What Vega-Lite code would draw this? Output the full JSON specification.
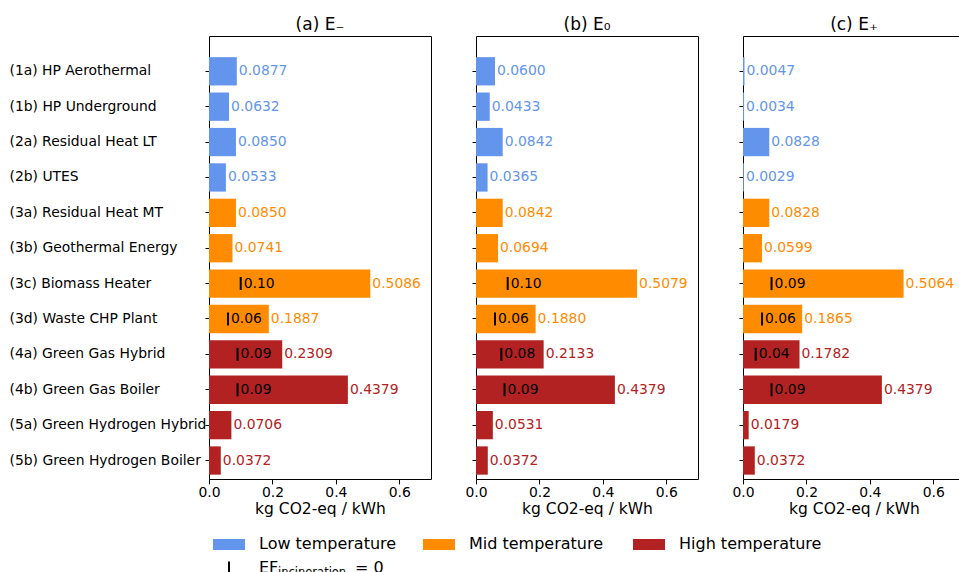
{
  "$schema": "https://vega.github.io/schema/vega-lite/v6.json",
  "padding": {"left": 8, "top": 15, "right": 0, "bottom": 0},
  "config": {
    "font": "DejaVu Sans",
    "view": {"stroke": "black", "strokeWidth": 1},
    "axis": {"labelColor": "black", "titleColor": "black", "tickColor": "black", "domain": false, "grid": false, "labelFontSize": 13.9, "titleFontSize": 15.5, "titleFontWeight": "normal"},
    "title": {"fontSize": 17, "fontWeight": "normal", "anchor": "middle", "frame": "group", "baseline": "alphabetic", "offset": 2, "color": "black"},
    "text": {"font": "DejaVu Sans"}
  },
  "datasets": {
    "bars": [
      {"panel": "a", "category": "(1a) HP Aerothermal", "group": "Low temperature", "value": 0.0877, "ef": null},
      {"panel": "a", "category": "(1b) HP Underground", "group": "Low temperature", "value": 0.0632, "ef": null},
      {"panel": "a", "category": "(2a) Residual Heat LT", "group": "Low temperature", "value": 0.0850, "ef": null},
      {"panel": "a", "category": "(2b) UTES", "group": "Low temperature", "value": 0.0533, "ef": null},
      {"panel": "a", "category": "(3a) Residual Heat MT", "group": "Mid temperature", "value": 0.0850, "ef": null},
      {"panel": "a", "category": "(3b) Geothermal Energy", "group": "Mid temperature", "value": 0.0741, "ef": null},
      {"panel": "a", "category": "(3c) Biomass Heater", "group": "Mid temperature", "value": 0.5086, "ef": 0.10},
      {"panel": "a", "category": "(3d) Waste CHP Plant", "group": "Mid temperature", "value": 0.1887, "ef": 0.06},
      {"panel": "a", "category": "(4a) Green Gas Hybrid", "group": "High temperature", "value": 0.2309, "ef": 0.09},
      {"panel": "a", "category": "(4b) Green Gas Boiler", "group": "High temperature", "value": 0.4379, "ef": 0.09},
      {"panel": "a", "category": "(5a) Green Hydrogen Hybrid", "group": "High temperature", "value": 0.0706, "ef": null},
      {"panel": "a", "category": "(5b) Green Hydrogen Boiler", "group": "High temperature", "value": 0.0372, "ef": null},
      {"panel": "b", "category": "(1a) HP Aerothermal", "group": "Low temperature", "value": 0.0600, "ef": null},
      {"panel": "b", "category": "(1b) HP Underground", "group": "Low temperature", "value": 0.0433, "ef": null},
      {"panel": "b", "category": "(2a) Residual Heat LT", "group": "Low temperature", "value": 0.0842, "ef": null},
      {"panel": "b", "category": "(2b) UTES", "group": "Low temperature", "value": 0.0365, "ef": null},
      {"panel": "b", "category": "(3a) Residual Heat MT", "group": "Mid temperature", "value": 0.0842, "ef": null},
      {"panel": "b", "category": "(3b) Geothermal Energy", "group": "Mid temperature", "value": 0.0694, "ef": null},
      {"panel": "b", "category": "(3c) Biomass Heater", "group": "Mid temperature", "value": 0.5079, "ef": 0.10},
      {"panel": "b", "category": "(3d) Waste CHP Plant", "group": "Mid temperature", "value": 0.1880, "ef": 0.06},
      {"panel": "b", "category": "(4a) Green Gas Hybrid", "group": "High temperature", "value": 0.2133, "ef": 0.08},
      {"panel": "b", "category": "(4b) Green Gas Boiler", "group": "High temperature", "value": 0.4379, "ef": 0.09},
      {"panel": "b", "category": "(5a) Green Hydrogen Hybrid", "group": "High temperature", "value": 0.0531, "ef": null},
      {"panel": "b", "category": "(5b) Green Hydrogen Boiler", "group": "High temperature", "value": 0.0372, "ef": null},
      {"panel": "c", "category": "(1a) HP Aerothermal", "group": "Low temperature", "value": 0.0047, "ef": null},
      {"panel": "c", "category": "(1b) HP Underground", "group": "Low temperature", "value": 0.0034, "ef": null},
      {"panel": "c", "category": "(2a) Residual Heat LT", "group": "Low temperature", "value": 0.0828, "ef": null},
      {"panel": "c", "category": "(2b) UTES", "group": "Low temperature", "value": 0.0029, "ef": null},
      {"panel": "c", "category": "(3a) Residual Heat MT", "group": "Mid temperature", "value": 0.0828, "ef": null},
      {"panel": "c", "category": "(3b) Geothermal Energy", "group": "Mid temperature", "value": 0.0599, "ef": null},
      {"panel": "c", "category": "(3c) Biomass Heater", "group": "Mid temperature", "value": 0.5064, "ef": 0.09},
      {"panel": "c", "category": "(3d) Waste CHP Plant", "group": "Mid temperature", "value": 0.1865, "ef": 0.06},
      {"panel": "c", "category": "(4a) Green Gas Hybrid", "group": "High temperature", "value": 0.1782, "ef": 0.04},
      {"panel": "c", "category": "(4b) Green Gas Boiler", "group": "High temperature", "value": 0.4379, "ef": 0.09},
      {"panel": "c", "category": "(5a) Green Hydrogen Hybrid", "group": "High temperature", "value": 0.0179, "ef": null},
      {"panel": "c", "category": "(5b) Green Hydrogen Boiler", "group": "High temperature", "value": 0.0372, "ef": null}
    ]
  },
  "vconcat": [
    {
      "spacing": 32,
      "hconcat": [
        {
          "width": 222, "height": 443,
          "data": {"name": "bars"},
          "title": {"text": "(a) E₋"},
          "transform": [{"filter": "datum.panel == 'a'"}],
          "encoding": {
            "y": {"field": "category", "type": "nominal",
              "scale": {"type": "band", "domain": ["(1a) HP Aerothermal", "(1b) HP Underground", "(2a) Residual Heat LT", "(2b) UTES", "(3a) Residual Heat MT", "(3b) Geothermal Energy", "(3c) Biomass Heater", "(3d) Waste CHP Plant", "(4a) Green Gas Hybrid", "(4b) Green Gas Boiler", "(5a) Green Hydrogen Hybrid", "(5b) Green Hydrogen Boiler"], "paddingInner": 0.2, "paddingOuter": 0.36, "align": 0.83},
              "axis": {"title": null, "labelAlign": "left", "labelPadding": 196, "labelLimit": 300, "tickSize": 4, "labelFontSize": 13.9}}
          },
          "layer": [
            {"mark": {"type": "bar"},
             "encoding": {
               "x": {"field": "value", "type": "quantitative", "scale": {"domain": [0, 0.7], "nice": false}, "axis": {"title": "kg CO2-eq / kWh", "values": [0, 0.2, 0.4, 0.6], "format": ".1f", "labelFlush": false, "tickSize": 4.9, "labelPadding": 2, "titlePadding": 2}},
               "color": {"field": "group", "type": "nominal", "scale": {"domain": ["Low temperature", "Mid temperature", "High temperature"], "range": ["#6495ED", "#FF8C00", "#B22222"]}, "legend": null}}},
            {"mark": {"type": "text", "align": "left", "baseline": "middle", "dx": 2, "fontSize": 13.9},
             "encoding": {
               "x": {"field": "value", "type": "quantitative", "scale": {"domain": [0, 0.7], "nice": false}, "axis": {"title": "kg CO2-eq / kWh", "values": [0, 0.2, 0.4, 0.6], "format": ".1f", "labelFlush": false, "tickSize": 4.9, "labelPadding": 2, "titlePadding": 2}},
               "text": {"field": "value", "type": "quantitative", "format": ".4f"},
               "color": {"field": "group", "type": "nominal", "legend": null}}},
            {"transform": [{"filter": "datum.ef != null"}],
             "mark": {"type": "tick", "color": "black", "thickness": 2, "size": 13, "opacity": 1},
             "encoding": {"x": {"field": "ef", "type": "quantitative", "scale": {"domain": [0, 0.7], "nice": false}, "axis": {"title": "kg CO2-eq / kWh", "values": [0, 0.2, 0.4, 0.6], "format": ".1f", "labelFlush": false, "tickSize": 4.9, "labelPadding": 2, "titlePadding": 2}}}},
            {"transform": [{"filter": "datum.ef != null"}],
             "mark": {"type": "text", "align": "left", "baseline": "middle", "dx": 3, "fontSize": 13.9, "color": "black"},
             "encoding": {"x": {"field": "ef", "type": "quantitative", "scale": {"domain": [0, 0.7], "nice": false}, "axis": {"title": "kg CO2-eq / kWh", "values": [0, 0.2, 0.4, 0.6], "format": ".1f", "labelFlush": false, "tickSize": 4.9, "labelPadding": 2, "titlePadding": 2}},
               "text": {"field": "ef", "type": "quantitative", "format": ".2f"}}}
          ]
        },
        {
          "width": 222, "height": 443,
          "data": {"name": "bars"},
          "title": {"text": "(b) E₀"},
          "transform": [{"filter": "datum.panel == 'b'"}],
          "encoding": {
            "y": {"field": "category", "type": "nominal",
              "scale": {"type": "band", "domain": ["(1a) HP Aerothermal", "(1b) HP Underground", "(2a) Residual Heat LT", "(2b) UTES", "(3a) Residual Heat MT", "(3b) Geothermal Energy", "(3c) Biomass Heater", "(3d) Waste CHP Plant", "(4a) Green Gas Hybrid", "(4b) Green Gas Boiler", "(5a) Green Hydrogen Hybrid", "(5b) Green Hydrogen Boiler"], "paddingInner": 0.2, "paddingOuter": 0.36, "align": 0.83},
              "axis": {"title": null, "labels": false, "tickSize": 4}}
          },
          "layer": [
            {"mark": {"type": "bar"},
             "encoding": {
               "x": {"field": "value", "type": "quantitative", "scale": {"domain": [0, 0.7], "nice": false}, "axis": {"title": "kg CO2-eq / kWh", "values": [0, 0.2, 0.4, 0.6], "format": ".1f", "labelFlush": false, "tickSize": 4.9, "labelPadding": 2, "titlePadding": 2}},
               "color": {"field": "group", "type": "nominal", "scale": {"domain": ["Low temperature", "Mid temperature", "High temperature"], "range": ["#6495ED", "#FF8C00", "#B22222"]}, "legend": null}}},
            {"mark": {"type": "text", "align": "left", "baseline": "middle", "dx": 2, "fontSize": 13.9},
             "encoding": {
               "x": {"field": "value", "type": "quantitative", "scale": {"domain": [0, 0.7], "nice": false}, "axis": {"title": "kg CO2-eq / kWh", "values": [0, 0.2, 0.4, 0.6], "format": ".1f", "labelFlush": false, "tickSize": 4.9, "labelPadding": 2, "titlePadding": 2}},
               "text": {"field": "value", "type": "quantitative", "format": ".4f"},
               "color": {"field": "group", "type": "nominal", "legend": null}}},
            {"transform": [{"filter": "datum.ef != null"}],
             "mark": {"type": "tick", "color": "black", "thickness": 2, "size": 13, "opacity": 1},
             "encoding": {"x": {"field": "ef", "type": "quantitative", "scale": {"domain": [0, 0.7], "nice": false}, "axis": {"title": "kg CO2-eq / kWh", "values": [0, 0.2, 0.4, 0.6], "format": ".1f", "labelFlush": false, "tickSize": 4.9, "labelPadding": 2, "titlePadding": 2}}}},
            {"transform": [{"filter": "datum.ef != null"}],
             "mark": {"type": "text", "align": "left", "baseline": "middle", "dx": 3, "fontSize": 13.9, "color": "black"},
             "encoding": {"x": {"field": "ef", "type": "quantitative", "scale": {"domain": [0, 0.7], "nice": false}, "axis": {"title": "kg CO2-eq / kWh", "values": [0, 0.2, 0.4, 0.6], "format": ".1f", "labelFlush": false, "tickSize": 4.9, "labelPadding": 2, "titlePadding": 2}},
               "text": {"field": "ef", "type": "quantitative", "format": ".2f"}}}
          ]
        },
        {
          "width": 222, "height": 443,
          "data": {"name": "bars"},
          "title": {"text": "(c) E₊"},
          "transform": [{"filter": "datum.panel == 'c'"}],
          "encoding": {
            "y": {"field": "category", "type": "nominal",
              "scale": {"type": "band", "domain": ["(1a) HP Aerothermal", "(1b) HP Underground", "(2a) Residual Heat LT", "(2b) UTES", "(3a) Residual Heat MT", "(3b) Geothermal Energy", "(3c) Biomass Heater", "(3d) Waste CHP Plant", "(4a) Green Gas Hybrid", "(4b) Green Gas Boiler", "(5a) Green Hydrogen Hybrid", "(5b) Green Hydrogen Boiler"], "paddingInner": 0.2, "paddingOuter": 0.36, "align": 0.83},
              "axis": {"title": null, "labels": false, "tickSize": 4}}
          },
          "layer": [
            {"mark": {"type": "bar"},
             "encoding": {
               "x": {"field": "value", "type": "quantitative", "scale": {"domain": [0, 0.7], "nice": false}, "axis": {"title": "kg CO2-eq / kWh", "values": [0, 0.2, 0.4, 0.6], "format": ".1f", "labelFlush": false, "tickSize": 4.9, "labelPadding": 2, "titlePadding": 2}},
               "color": {"field": "group", "type": "nominal", "scale": {"domain": ["Low temperature", "Mid temperature", "High temperature"], "range": ["#6495ED", "#FF8C00", "#B22222"]}, "legend": null}}},
            {"mark": {"type": "text", "align": "left", "baseline": "middle", "dx": 2, "fontSize": 13.9},
             "encoding": {
               "x": {"field": "value", "type": "quantitative", "scale": {"domain": [0, 0.7], "nice": false}, "axis": {"title": "kg CO2-eq / kWh", "values": [0, 0.2, 0.4, 0.6], "format": ".1f", "labelFlush": false, "tickSize": 4.9, "labelPadding": 2, "titlePadding": 2}},
               "text": {"field": "value", "type": "quantitative", "format": ".4f"},
               "color": {"field": "group", "type": "nominal", "legend": null}}},
            {"transform": [{"filter": "datum.ef != null"}],
             "mark": {"type": "tick", "color": "black", "thickness": 2, "size": 13, "opacity": 1},
             "encoding": {"x": {"field": "ef", "type": "quantitative", "scale": {"domain": [0, 0.7], "nice": false}, "axis": {"title": "kg CO2-eq / kWh", "values": [0, 0.2, 0.4, 0.6], "format": ".1f", "labelFlush": false, "tickSize": 4.9, "labelPadding": 2, "titlePadding": 2}}}},
            {"transform": [{"filter": "datum.ef != null"}],
             "mark": {"type": "text", "align": "left", "baseline": "middle", "dx": 3, "fontSize": 13.9, "color": "black"},
             "encoding": {"x": {"field": "ef", "type": "quantitative", "scale": {"domain": [0, 0.7], "nice": false}, "axis": {"title": "kg CO2-eq / kWh", "values": [0, 0.2, 0.4, 0.6], "format": ".1f", "labelFlush": false, "tickSize": 4.9, "labelPadding": 2, "titlePadding": 2}},
               "text": {"field": "ef", "type": "quantitative", "format": ".2f"}}}
          ]
        }
      ]
    },
    {
      "width": 460, "height": 40,
      "view": {"stroke": null},
      "data": {"values": [{"entry": "Low temperature"}, {"entry": "Mid temperature"}, {"entry": "High temperature"}]},
      "encoding": {
        "x": {"field": "entry", "type": "nominal", "scale": {"type": "point", "domain": ["Low temperature", "Mid temperature", "High temperature"], "padding": 0.0952}, "axis": null}
      },
      "layer": [
        {"mark": {"type": "point", "shape": "M-1,-0.34375H1V0.34375H-1Z", "size": 1024, "filled": true, "opacity": 1, "yOffset": -11.5},
         "encoding": {"color": {"field": "entry", "type": "nominal", "scale": {"domain": ["Low temperature", "Mid temperature", "High temperature"], "range": ["#6495ED", "#FF8C00", "#B22222"]}, "legend": null}}},
        {"mark": {"type": "text", "align": "left", "baseline": "alphabetic", "dx": 30, "dy": -7.3, "fontSize": 16, "color": "black"},
         "encoding": {"text": {"field": "entry"}}},
        {"data": {"values": [{"label": "EF", "sub": "incineration", "rest": "= 0"}]},
         "encoding": {"x": {"datum": "Low temperature", "type": "nominal"}},
         "layer": [
           {"mark": {"type": "point", "shape": "M0,-1V1", "size": 169, "filled": false, "stroke": "black", "strokeWidth": 2, "opacity": 1, "yOffset": 12}},
           {"mark": {"type": "text", "align": "left", "baseline": "alphabetic", "dx": 30, "dy": 17, "fontSize": 16, "color": "black"}, "encoding": {"text": {"field": "label"}}},
           {"mark": {"type": "text", "align": "left", "baseline": "alphabetic", "dx": 49, "dy": 20, "fontSize": 11.5, "color": "black"}, "encoding": {"text": {"field": "sub"}}},
           {"mark": {"type": "text", "align": "left", "baseline": "alphabetic", "dx": 126, "dy": 17, "fontSize": 16, "color": "black"}, "encoding": {"text": {"field": "rest"}}}
         ]}
      ]
    }
  ],
  "spacing": 17
}
